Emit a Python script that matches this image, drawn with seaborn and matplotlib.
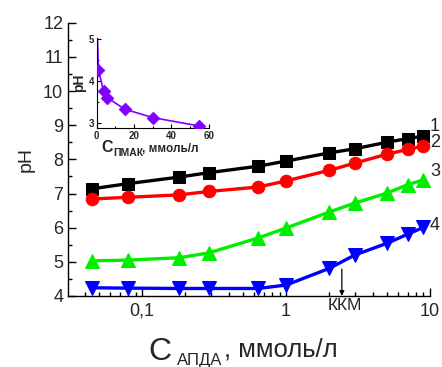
import numpy as np
import pandas as pd
import matplotlib
matplotlib.use("Agg")
import matplotlib.pyplot as plt
import matplotlib.ticker as mticker
import seaborn as sns

# ---- data ----
x_conc = [0.045, 0.08, 0.18, 0.29, 0.64, 1, 2, 3, 5, 7, 9]
ph_1 = [7.14, 7.29, 7.48, 7.61, 7.80, 7.95, 8.19, 8.31, 8.50, 8.61, 8.68]
ph_2 = [6.84, 6.89, 6.96, 7.06, 7.19, 7.37, 7.68, 7.89, 8.15, 8.29, 8.39]
ph_3 = [5.03, 5.05, 5.12, 5.26, 5.70, 5.99, 6.46, 6.72, 7.01, 7.26, 7.40]
ph_4 = [4.24, 4.23, 4.22, 4.22, 4.22, 4.32, 4.81, 5.20, 5.54, 5.81, 6.01]
series_labels = ["1", "2", "3", "4"]
series_label_y = [8.95, 8.5, 7.65, 6.06]
kkm_x = 2.44

inset_x = [0.3, 0.9, 3.6, 5.7, 15, 30, 55]
inset_ph = [5.05, 4.27, 3.76, 3.60, 3.33, 3.13, 2.93]

x_ticks = [0.1, 1, 10]
x_ticklabels = ["0,1", "1", "10"]
y_ticks = [4, 5, 6, 7, 8, 9, 10, 11, 12]

sns.set_style("ticks")
plt.rcParams["font.family"] = ["Liberation Sans", "DejaVu Sans"]
plt.rcParams["mathtext.fontset"] = "custom"
plt.rcParams["mathtext.rm"] = "Liberation Sans"
plt.rcParams["mathtext.it"] = "Liberation Sans:italic"
plt.rcParams["mathtext.bf"] = "Liberation Sans:bold"

W, H = 442, 367
fig = plt.figure(figsize=(W / 100, H / 100), dpi=100)
ax = fig.add_axes([0.154, 0.1935, 0.819, 0.7445])

styles = [
    (ph_1, "black", "s", 8),
    (ph_2, "#ff0000", "o", 9),
    (ph_3, "#00ee00", "^", 9.5),
    (ph_4, "#0000ff", "v", 9.5),
]
for ph, col, mk, ms in styles:
    sns.lineplot(x=x_conc, y=ph, ax=ax, color=col, marker=mk, markersize=ms,
                 markeredgecolor=col, linewidth=2.4, sort=False, legend=False)

ax.set_xscale("log")
ax.set_xlim(0.0306, 10)
ax.set_ylim(4, 12)
ax.set_xticks(x_ticks)
ax.set_xticklabels(x_ticklabels)
ax.set_yticks(y_ticks)
ax.yaxis.set_minor_locator(mticker.MultipleLocator(0.5))
ax.xaxis.set_minor_locator(mticker.LogLocator(base=10, subs=np.arange(2, 10)))
ax.xaxis.set_minor_formatter(mticker.NullFormatter())
ax.tick_params(which="both", direction="in", labelsize=13, color="black", width=1)
ax.tick_params(which="major", length=6)
ax.tick_params(which="minor", length=3)
ax.tick_params(axis="x", pad=5)
for s in ["top", "right"]:
    ax.spines[s].set_visible(False)
for s in ["left", "bottom"]:
    ax.spines[s].set_color("black")
    ax.spines[s].set_linewidth(1)

ax.set_ylabel("pH", fontsize=14, labelpad=6)

# x label built from pieces (large C, small subscript, medium units)
fig.text(148 / W, 1 - 360 / H, "С", fontsize=23, ha="left", va="baseline")
fig.text(177 / W, 1 - 365 / H, "АПДА", fontsize=12, ha="left", va="baseline")
fig.text(224 / W, 1 - 357 / H, ", ммоль/л", fontsize=18.5, ha="left", va="baseline")

# series labels at right
for lab, yv in zip(series_labels, series_label_y):
    ax.text(1.0, yv, lab, transform=ax.get_yaxis_transform(), fontsize=13,
            ha="left", va="center", clip_on=False)

# KKM arrow
ax.annotate("", xy=(kkm_x, 4.0), xytext=(kkm_x, 4.79),
            arrowprops=dict(arrowstyle="-|>", color="black", lw=0.9,
                            mutation_scale=7, shrinkA=0, shrinkB=0))
ax.text(kkm_x * 1.05, 3.72, "ККМ", fontsize=12.5, ha="center", va="center",
        clip_on=False)

# ---- inset ----
axi = fig.add_axes([0.219, 0.651, 0.253, 0.245])
sns.lineplot(x=inset_x, y=inset_ph, ax=axi, color="#8000ff", linewidth=1.2,
             sort=False, legend=False)
sns.scatterplot(x=inset_x[1:], y=inset_ph[1:], ax=axi, color="#8000ff",
                marker="D", s=42, edgecolor="#8000ff", legend=False, zorder=3)
axi.set_xlim(0, 60)
axi.set_ylim(2.88, 5.02)
axi.set_xticks([0, 20, 40, 60])
axi.set_yticks([3, 4, 5])
axi.xaxis.set_minor_locator(mticker.MultipleLocator(10))
axi.yaxis.set_minor_locator(mticker.MultipleLocator(0.5))
axi.tick_params(which="both", direction="in", labelsize=7, color="black",
                width=0.8, pad=2)
axi.tick_params(which="major", length=3)
axi.tick_params(which="minor", length=1.5)
for t in axi.get_xticklabels() + axi.get_yticklabels():
    t.set_fontweight("bold")
for s in ["top", "right"]:
    axi.spines[s].set_visible(False)
for s in ["left", "bottom"]:
    axi.spines[s].set_color("black")
    axi.spines[s].set_linewidth(0.8)
axi.set_facecolor("none")
axi.set_ylabel("pH", fontsize=10, fontweight="bold", labelpad=2)

# inset x label pieces
fig.text(101 / W, 1 - 152.5 / H, "С", fontsize=11.5, fontweight="bold",
         ha="left", va="baseline")
fig.text(113 / W, 1 - 156 / H, "ПМАК", fontsize=7.5, fontweight="bold",
         ha="left", va="baseline")
fig.text(141.5 / W, 1 - 151.5 / H, ", ммоль/л", fontsize=8.5, fontweight="bold",
         ha="left", va="baseline")

fig.savefig("out.png", dpi=100)
